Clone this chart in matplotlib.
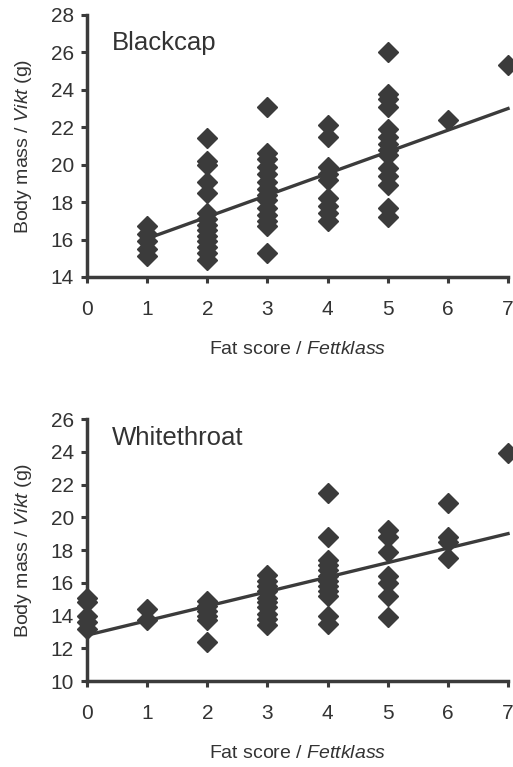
import numpy as np
import matplotlib.pyplot as plt

plt.rcParams['font.family'] = ['Liberation Sans', 'DejaVu Sans']
plt.rcParams['mathtext.fontset'] = 'custom'
plt.rcParams['mathtext.rm'] = 'Liberation Sans'
plt.rcParams['mathtext.it'] = 'Liberation Sans:italic'

# Blackcap: body mass per fat score
bc_scores = [1, 2, 3, 4, 5, 6, 7]
bc_mass = [
    [16.7, 16.3, 15.9, 15.5, 15.1],
    [21.4, 20.2, 20.0, 19.1, 18.5, 17.4, 17.1, 16.8, 16.5, 16.2, 15.9, 15.6, 15.3, 14.9],
    [23.1, 20.6, 20.3, 19.9, 19.5, 19.1, 18.7, 18.4, 18.1, 17.7, 17.3, 17.0, 16.7, 15.3],
    [22.1, 21.5, 19.9, 19.5, 19.2, 18.2, 17.8, 17.4, 17.0],
    [26.0, 23.8, 23.5, 23.1, 21.9, 21.5, 21.1, 20.8, 20.5, 19.8, 19.4, 18.9, 17.7, 17.2],
    [22.4],
    [25.3],
]
bc_fit_x = [1, 7]
bc_fit_y = [16.05, 23.0]

# Whitethroat
wt_scores = [0, 1, 2, 3, 4, 5, 6, 7]
wt_mass = [
    [15.1, 14.8, 14.0, 13.6, 13.2],
    [14.4, 13.7],
    [14.9, 14.6, 14.3, 14.0, 13.7, 12.4],
    [16.5, 16.1, 15.8, 15.5, 15.1, 14.8, 14.5, 14.1, 13.8, 13.4],
    [21.5, 18.8, 17.4, 17.1, 16.8, 16.4, 16.1, 15.8, 15.5, 15.2, 14.0, 13.5],
    [19.2, 18.8, 17.9, 16.4, 16.0, 15.2, 13.9],
    [20.9, 18.8, 18.5, 17.5],
    [23.9],
]
wt_fit_x = [0, 7]
wt_fit_y = [12.8, 19.0]

c = '#3b3b3b'
tc = '#333333'

fig = plt.figure(figsize=(5.13, 7.67), dpi=100)
ax1 = fig.add_axes([0.1696, 0.6389, 0.8207, 0.3416])
ax2 = fig.add_axes([0.1696, 0.1121, 0.8207, 0.3416])


def panel(ax, scores, mass, fx, fy, ylim, title, title_y):
    xs = np.concatenate([[s] * len(m) for s, m in zip(scores, mass)])
    ys = np.concatenate(mass)
    ax.plot(xs, ys, 'D', ms=10.5, color=c, mec=c, clip_on=False, zorder=3)
    ax.plot(fx, fy, '-', color=c, lw=2.4, clip_on=False, zorder=2)
    ax.set_xlim(0, 7)
    ax.set_ylim(*ylim)
    ax.set_xticks(range(0, 8))
    ax.set_yticks(range(ylim[0], ylim[1] + 1, 2))
    for sp in ['top', 'right']:
        ax.spines[sp].set_visible(False)
    for sp in ['left', 'bottom']:
        ax.spines[sp].set_linewidth(2.5)
        ax.spines[sp].set_color(c)
    ax.tick_params(direction='out', length=4.5, width=2.2, color=c,
                   labelsize=15, labelcolor=tc)
    ax.tick_params(axis='x', pad=12)
    ax.tick_params(axis='y', pad=5)
    ax.set_xlabel('Fat score / $\\it{Fettklass}$', fontsize=14, color=tc, labelpad=16)
    ax.set_ylabel('Body mass / $\\it{Vikt}$ (g)', fontsize=14, color=tc, labelpad=12)
    ax.text(0.059, title_y, title, transform=ax.transAxes, fontsize=18.5,
            color=tc, va='center')


panel(ax1, bc_scores, bc_mass, bc_fit_x, bc_fit_y, (14, 28), 'Blackcap', 0.893)
panel(ax2, wt_scores, wt_mass, wt_fit_x, wt_fit_y, (10, 26), 'Whitethroat', 0.927)

fig.savefig('out.png', dpi=100)
